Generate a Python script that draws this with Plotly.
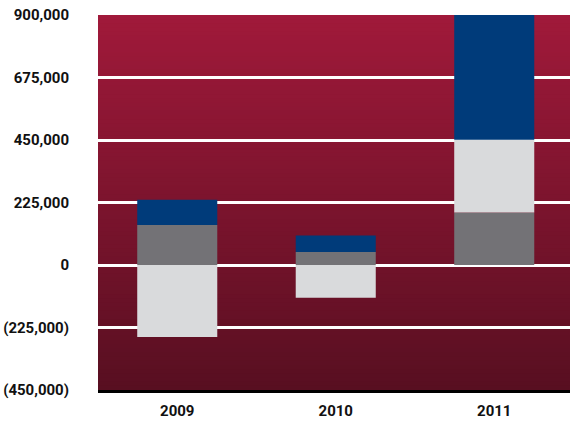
import plotly.graph_objects as go

years = ["2009", "2010", "2011"]
dark_gray_vals = [144000, 47000, 189000]
light_gray_vals = [-259000, -118000, 262000]
blue_vals = [91000, 59000, 449000]

y_tick_vals = [-450000, -225000, 0, 225000, 450000, 675000, 900000]
y_tick_text = ["(450,000)", "(225,000)", "0", "225,000", "450,000", "675,000", "900,000"]

FONT = "Roboto, DejaVu Sans Condensed, sans-serif"

fig = go.Figure()
fig.add_bar(x=years, y=dark_gray_vals, marker=dict(color="#737276", line=dict(width=0)), width=0.505)
fig.add_bar(x=years, y=light_gray_vals, marker=dict(color="#D9DADC", line=dict(width=0)), width=0.505)
fig.add_bar(x=years, y=blue_vals, marker=dict(color="#003B7A", line=dict(width=0)), width=0.505)

# vertical gradient background
top = (160, 25, 58)
bot = (88, 15, 33)
n = 90
shapes = []
for i in range(n):
    t = i / (n - 1)
    c = tuple(round(top[k] + (bot[k] - top[k]) * t) for k in range(3))
    shapes.append(dict(type="rect", xref="paper", yref="paper", x0=0, x1=1,
                       y1=1 - i / n, y0=1 - (i + 1) / n - 0.002,
                       fillcolor="rgb(%d,%d,%d)" % c, line=dict(width=0), layer="below"))

fig.update_layout(
    width=570, height=422,
    margin=dict(l=98, r=0, t=15, b=32),
    barmode="relative",
    showlegend=False,
    paper_bgcolor="white",
    plot_bgcolor="rgba(0,0,0,0)",
    shapes=shapes,
    font=dict(family=FONT, color="#111111"),
)
fig.update_xaxes(range=[-0.5, 2.478], showgrid=False, showline=True, linecolor="#000000",
                 linewidth=3, ticks="", tickfont=dict(size=15, family=FONT, weight="bold"),
                 ticklabelstandoff=5, automargin=False)
fig.update_yaxes(range=[-450000, 900000], tickvals=y_tick_vals, ticktext=y_tick_text,
                 showgrid=True, gridcolor="white", gridwidth=2.5,
                 zeroline=True, zerolinecolor="white", zerolinewidth=2.5,
                 ticks="", tickfont=dict(size=15, family=FONT, weight="bold"),
                 ticklabelstandoff=28, automargin=False)

fig.write_html("out.html", config={"displayModeBar": False},
               post_script="document.body.style.margin='0';document.body.style.overflow='hidden';")
